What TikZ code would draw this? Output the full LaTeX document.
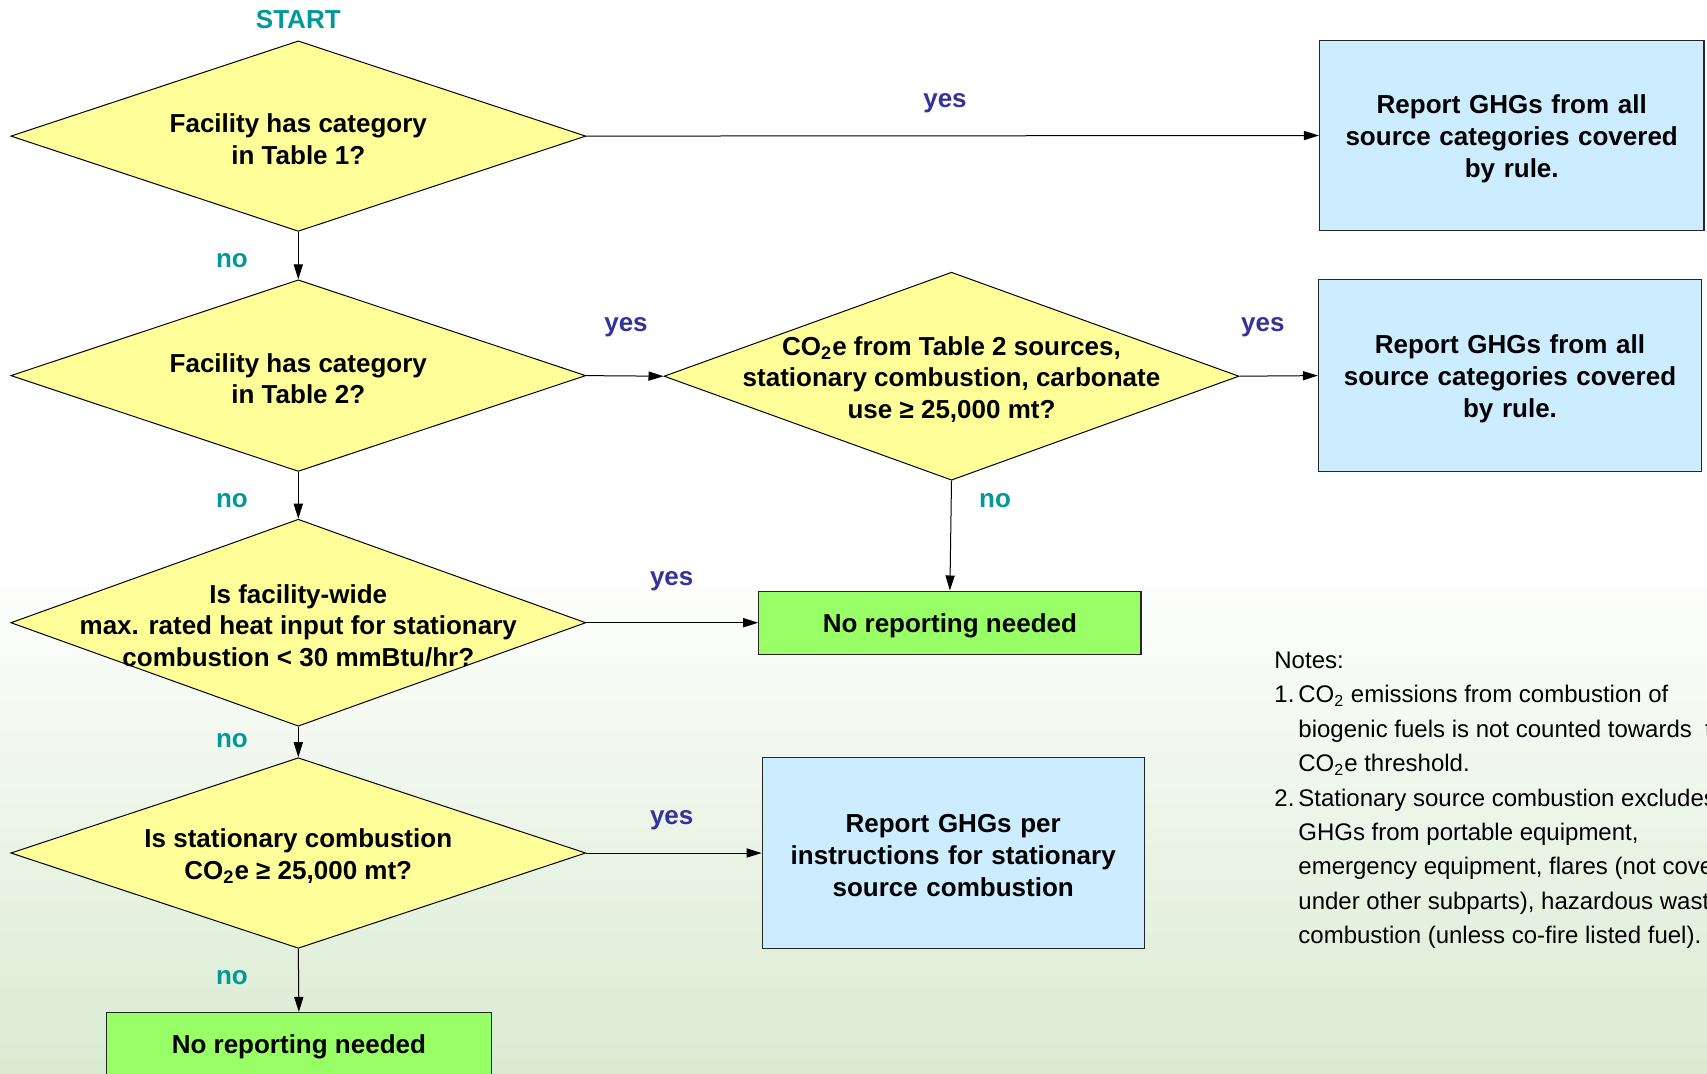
\documentclass[tikz,border=0pt]{standalone}
\usepackage{fontspec}
\setmainfont{Liberation Sans}
\usetikzlibrary{shapes.geometric,arrows.meta}
\definecolor{dfill}{HTML}{FFFF99}
\definecolor{bfill}{HTML}{CCECFF}
\definecolor{gfill}{HTML}{99FF66}
\definecolor{yescol}{HTML}{333399}
\definecolor{nocol}{HTML}{009999}
\definecolor{bgbot}{RGB}{218,235,210}
\begin{document}
\begin{tikzpicture}[x=0.5pt,y=-0.5pt,
  dia/.style={diamond, draw=black, line width=0.5pt, fill=dfill, inner sep=0pt, minimum width=287.5pt},
  box/.style={rectangle, draw=black!85, line width=0.6pt, inner sep=0pt},
  txt/.style={font=\bfseries\fontsize{13}{15.8}\selectfont, align=center, inner sep=0pt, yshift=-1.5pt},
  starttxt/.style={font=\bfseries\fontsize{13}{15.8}\selectfont, text=nocol, inner sep=0pt},
  yeslab/.style={font=\bfseries\fontsize{13}{15.8}\selectfont, text=yescol, inner sep=0pt, yshift=-2pt},
  nolab/.style={font=\bfseries\fontsize{13}{15.8}\selectfont, text=nocol, inner sep=0pt, yshift=-1.2pt},
  arr/.style={-{Triangle[length=7.5pt,width=4.6pt]}, line width=0.5pt, draw=black}]
% background
\useasboundingbox (0,0) rectangle (1707,1073);
\fill[white] (0,0) rectangle (1707,560);
\shade[top color=white, bottom color=bgbot] (0,559) rectangle (1707,1073);

% start
\node[starttxt] (start) at (298.3,19.6) {START};

% decision diamonds
\node[dia, minimum height=95.25pt] (d1) at (298.3,136.1) {};
\node[txt] (d1t) at (d1) {Facility has category\\in Table 1?};
\node[dia, minimum height=95.8pt] (d2) at (298.3,375.6) {};
\node[txt] (d2t) at (d2) {Facility has category\\in Table 2?};
\node[dia, minimum height=104pt] (d3) at (951.5,376.2) {};
\node[txt] (d3t) at (d3) {CO\textsubscript{2}e from Table 2 sources,\\stationary combustion, carbonate\\use ≥ 25,000 mt?};
\node[dia, minimum height=103.5pt] (d4) at (298.3,622.7) {};
\node[txt] (d4t) at (d4) {Is facility-wide\\max. rated heat input for stationary\\combustion < 30 mmBtu/hr?};
\node[dia, minimum height=95.3pt] (d5) at (298.3,853.0) {};
\node[txt] (d5t) at (d5) {Is stationary combustion\\CO\textsubscript{2}e ≥ 25,000 mt?};

% result boxes
\node[box, fill=bfill, minimum width=192.2pt, minimum height=95.25pt] (r1) at (1511.7,135.5) {};
\node[txt, text width=185pt, font=\bfseries\fontsize{13}{16}\selectfont] (r1t) at (r1) {Report GHGs from all\\source categories covered\\by rule.};
\node[box, fill=bfill, minimum width=191.6pt, minimum height=95.8pt] (r2) at (1510,375.6) {};
\node[txt, text width=185pt, font=\bfseries\fontsize{13}{16}\selectfont] (r2t) at (r2) {Report GHGs from all\\source categories covered\\by rule.};
\node[box, fill=gfill, minimum width=191.1pt, minimum height=31.6pt] (g1) at (949.9,622.7) {};
\node[txt] (g1t) at (g1) {No reporting needed};
\node[box, fill=bfill, minimum width=191pt, minimum height=95.3pt] (r3) at (953.2,853.0) {};
\node[txt, text width=185pt, font=\bfseries\fontsize{13}{16}\selectfont] (r3t) at (r3) {Report GHGs per\\instructions for stationary\\source combustion};
\node[box, fill=gfill, minimum width=192.2pt, minimum height=31.6pt] (g2) at (298.9,1044.1) {};
\node[txt] (g2t) at (g2) {No reporting needed};

% connectors
\draw[arr] (d1.east) -- (r1.west);
\draw[arr] (d1.south) -- (d2.north);
\draw[arr] (d2.east) -- (d3.west);
\draw[arr] (d3.east) -- (r2.west);
\draw[arr] (d3.south) -- (g1.north);
\draw[arr] (d2.south) -- (d4.north);
\draw[arr] (d4.east) -- (g1.west);
\draw[arr] (d4.south) -- (d5.north);
\draw[arr] (d5.east) -- (r3.west);
\draw[arr] (d5.south) -- (g2.north);

% labels
\node[yeslab] (y1) at (945,99) {yes};
\node[nolab] (n1) at (231.9,258) {no};
\node[yeslab] (y2) at (626,323.3) {yes};
\node[yeslab] (y3) at (1262.9,323.3) {yes};
\node[nolab] (n2) at (231.9,498.6) {no};
\node[nolab] (n3) at (995,498.6) {no};
\node[yeslab] (y4) at (671.7,577) {yes};
\node[nolab] (n4) at (231.9,738.1) {no};
\node[yeslab] (y5) at (671.7,816.5) {yes};
\node[nolab] (n5) at (231.9,975.5) {no};

% notes
\node[anchor=north west, align=left, inner sep=0pt, font=\fontsize{12}{17.2}\selectfont] (notes) at (1274,651.5)
{Notes:\\
\makebox[12pt][l]{1.}CO\textsubscript{2} emissions from combustion of\\
\hspace*{12pt}biogenic fuels is not counted towards\ \ the\\
\hspace*{12pt}CO\textsubscript{2}e threshold.\\
\makebox[12pt][l]{2.}Stationary source combustion excludes\\
\hspace*{12pt}GHGs from portable equipment,\\
\hspace*{12pt}emergency equipment, flares (not covered\\
\hspace*{12pt}under other subparts), hazardous waste\\
\hspace*{12pt}combustion (unless co-fire listed fuel).};
\end{tikzpicture}
\end{document}
